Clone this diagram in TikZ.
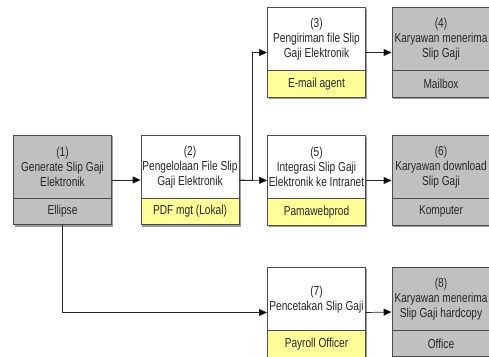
\documentclass[tikz,border=0pt]{standalone}
\usepackage{fontspec}
\setmainfont{Liberation Sans}[FakeStretch=0.78]
\usepackage{tikz}
\usetikzlibrary{positioning, arrows.meta, shapes.multipart, backgrounds}

\definecolor{boxgrey}{RGB}{192,192,192}
\definecolor{toolyellow}{RGB}{255,255,153}

\newcommand{\steptitle}[1]{\parbox[c][62pt][c]{98pt}{\centering #1}}
\newcommand{\steptool}[1]{\parbox[c][26pt][c]{98pt}{\centering #1}}

\begin{document}
\begin{tikzpicture}[
    x=1pt, y=-1pt,
    stage/.style={rectangle split, rectangle split parts=2, draw=black!70, line width=0.7pt,
        inner xsep=0pt, inner ysep=0pt, text=black!85,
        font=\fontsize{13}{15}\selectfont},
    system/.style={stage, rectangle split part fill={white, toolyellow}},
    user/.style={stage, rectangle split part fill={boxgrey, boxgrey}},
    arrow/.style={-{Triangle[length=8pt, width=7pt]}, draw=black!85, line width=0.7pt}
]
    \useasboundingbox (0,0) rectangle (489,356);

    % Generate and manage the electronic slip
    \node (s1) at (62.5,180) [user] {\steptitle{(1)\\Generate Slip Gaji\\Elektronik}\nodepart{two}\steptool{Ellipse}};
    \node (s2) at (190,180) [system] {\steptitle{(2)\\Pengelolaan File Slip\\Gaji Elektronik}\nodepart{two}\steptool{PDF mgt (Lokal)}};

    % Distribution channels
    \node (s3) at (316.5,52.5) [system] {\steptitle{(3)\\Pengiriman file Slip\\Gaji Elektronik}\nodepart{two}\steptool{E-mail agent}};
    \node (s5) at (316.5,180.5) [system] {\steptitle{(5)\\Integrasi Slip Gaji\\Elektronik ke Intranet}\nodepart{two}\steptool{Pamawebprod}};
    \node (s7) at (316.5,312.5) [system] {\steptitle{(7)\\Pencetakan Slip Gaji}\nodepart{two}\steptool{Payroll Officer}};

    % Receiving employees
    \node (s4) at (441,52.5) [user] {\steptitle{(4)\\Karyawan menerima\\Slip Gaji}\nodepart{two}\steptool{Mailbox}};
    \node (s6) at (441,180.5) [user] {\steptitle{(6)\\Karyawan download\\Slip Gaji}\nodepart{two}\steptool{Komputer}};
    \node (s8) at (441,312) [user] {\steptitle{(8)\\Karyawan menerima\\Slip Gaji hardcopy}\nodepart{two}\steptool{Office}};

    % Shadows
    \begin{scope}[on background layer]
        \foreach \n in {s1,s2,s3,s4,s5,s6,s7,s8}
            \fill [black!40] ([shift={(1.5,1.5)}]\n.north west) rectangle ([shift={(1.5,1.5)}]\n.south east);
    \end{scope}

    % Connectors
    \draw [arrow] (s1.east) -- (s2.west);
    \draw [arrow] (s2.east) -- (s5.west);
    \draw [arrow] (s2.east) -- ++(13,0) |- (s3.west);
    \draw [arrow] (s1.south) |- (s7.west);
    \draw [arrow] (s3.east) -- (s4.west);
    \draw [arrow] (s5.east) -- (s6.west);
    \draw [arrow] (s7.east) -- (s8.west);

\end{tikzpicture}
\end{document}
